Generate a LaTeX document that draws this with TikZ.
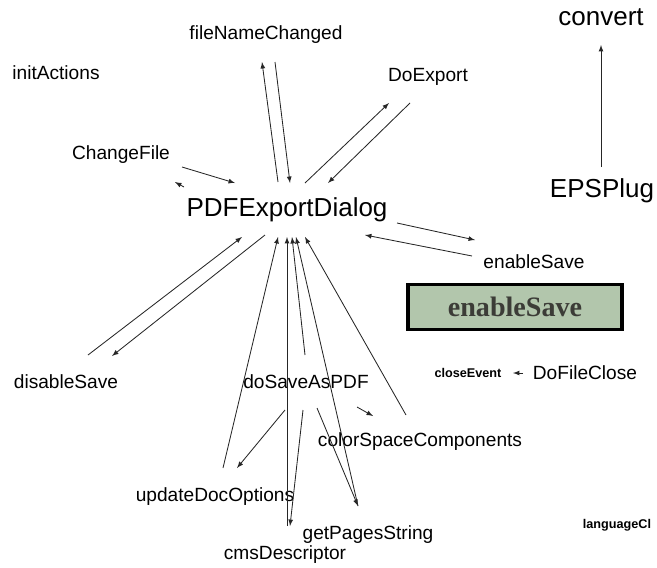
\documentclass[tikz,border=0pt]{standalone}
\usepackage{fontspec}
\setmainfont{Liberation Sans}
\newfontfamily\serifbox{Liberation Serif}
\usepackage{xcolor}
\usetikzlibrary{positioning,arrows}
\definecolor{sage}{RGB}{178, 198, 172}
\definecolor{darkink}{RGB}{60, 60, 55}

\begin{document}
\begin{tikzpicture}[
    x=0.025cm, y=-0.025cm,
    call/.style={inner sep=0pt, font=\fontsize{13.6}{16}\selectfont},
    bigcall/.style={inner sep=0pt, font=\fontsize{18.5}{22}\selectfont},
    smallbold/.style={inner sep=0pt, font=\fontsize{9}{10}\selectfont\bfseries},
    savebox/.style={rectangle, draw=black, line width=2.2pt, fill=sage, minimum width=5.35cm, minimum height=1.12cm, text=darkink, font=\fontsize{20}{24}\selectfont\serifbox\bfseries},
    arrow/.style={-latex, line width=0.6pt, black!85}
]
\useasboundingbox (0,0) rectangle (657,567);

\node[call] (init) at (56,73) {initActions};
\node[call] (namechg) at (266,35) {fileNameChanged};
\node[call] (doexport) at (428,77) {DoExport};
\node[bigcall] (convert) at (601,17) {convert};
\node[call] (chgfile) at (121,155) {ChangeFile};
\node[bigcall] (pdfdlg) at (287,210) {PDFExportDialog};
\node[bigcall] (epsplug) at (602,191) {EPSPlug};
\node[call] (enable) at (534,262) {enableSave};
\node[savebox] (enablebox) at (515,307) {enableSave};
\node[call] (disable) at (66,382) {disableSave};
\node[call] (dosave) at (306,382) {doSaveAsPDF};
\node[smallbold] (closeev) at (468,373) {closeEvent};
\node[call] (fileclose) at (585,373) {DoFileClose};
\node[call] (colspace) at (420,442) {colorSpaceComponents};
\node[call] (updopts) at (215,497) {updateDocOptions};
\node[call] (pages) at (368,535) {getPagesString};
\node[call] (cmsdesc) at (285,555) {cmsDescriptor};
\node[smallbold] (langcl) at (617,525) {languageCl};

\draw[arrow] ([shift={(-9,-28)}]pdfdlg.center) -- ([shift={(-4,27)}]namechg.center);
\draw[arrow] ([shift={(9,27)}]namechg.center) -- ([shift={(3,-27)}]pdfdlg.center);
\draw[arrow] ([shift={(18,-27)}]pdfdlg.center) -- ([shift={(-39,26)}]doexport.center);
\draw[arrow] ([shift={(-18,26)}]doexport.center) -- ([shift={(41,-27)}]pdfdlg.center);
\draw[arrow] ([shift={(61,12)}]chgfile.center) -- ([shift={(-52,-27)}]pdfdlg.center);
\draw[arrow] ([shift={(-103,-23)}]pdfdlg.center) -- ([shift={(119,109)}]init.center);
\draw[arrow] ([shift={(110,13)}]pdfdlg.center) -- ([shift={(-59,-22)}]enable.center);
\draw[arrow] ([shift={(-62,-6)}]enable.center) -- ([shift={(78,25)}]pdfdlg.center);
\draw[arrow] ([shift={(22,-27)}]disable.center) -- ([shift={(-45,27)}]pdfdlg.center);
\draw[arrow] ([shift={(-22,25)}]pdfdlg.center) -- ([shift={(46,-26)}]disable.center);
\draw[arrow] ([shift={(8,-29)}]updopts.center) -- ([shift={(-9,27)}]pdfdlg.center);
\draw[arrow] ([shift={(2,-29)}]cmsdesc.center) -- ([shift={(0,27)}]pdfdlg.center);
\draw[arrow] ([shift={(-1,-27)}]dosave.center) -- ([shift={(5,27)}]pdfdlg.center);
\draw[arrow] ([shift={(-10,-29)}]pages.center) -- ([shift={(9,27)}]pdfdlg.center);
\draw[arrow] ([shift={(-14,-27)}]colspace.center) -- ([shift={(18,27)}]pdfdlg.center);
\draw[arrow] ([shift={(-21,28)}]dosave.center) -- ([shift={(22,-29)}]updopts.center);
\draw[arrow] ([shift={(-3,28)}]dosave.center) -- ([shift={(5,-29)}]cmsdesc.center);
\draw[arrow] ([shift={(11,26)}]dosave.center) -- ([shift={(-10,-29)}]pages.center);
\draw[arrow] ([shift={(51,25)}]dosave.center) -- ([shift={(-47,-26)}]colspace.center);
\draw[arrow] ([shift={(-62,0)}]fileclose.center) -- ([shift={(45,0)}]closeev.center);
\draw[arrow] ([shift={(-1,-24)}]epsplug.center) -- ([shift={(0,28)}]convert.center);

\end{tikzpicture}
\end{document}
